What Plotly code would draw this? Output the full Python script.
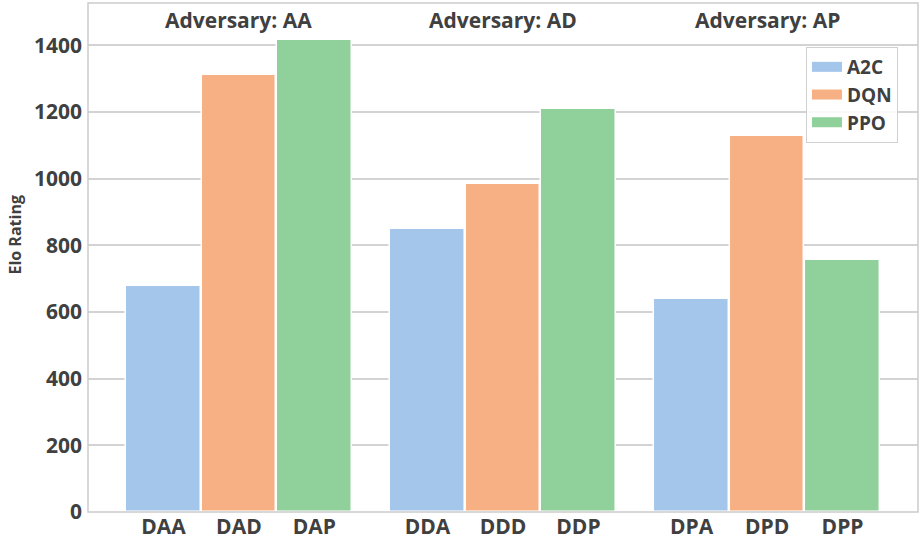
import plotly.graph_objects as go

adversaries = ["Adversary: AA", "Adversary: AD", "Adversary: AP"]
categories = [["DAA", "DAD", "DAP"], ["DDA", "DDD", "DDP"], ["DPA", "DPD", "DPP"]]
algorithms = ["A2C", "DQN", "PPO"]
elo = [[677, 1310, 1415], [850, 985, 1210], [638, 1127, 755]]
y_ticks = [0, 200, 400, 600, 800, 1000, 1200, 1400]

colors = {"A2C": "#a4c6ea", "DQN": "#f6b083", "PPO": "#90d09a"}
FONT = "Open Sans"
TXT = "#404040"

fig = go.Figure()

# facet layout: x ranges (in category units) and domains
ranges = [[-1.0, 2.75], [-0.75, 2.75], [-0.75, 3.0]]
spans = [r[1] - r[0] for r in ranges]
total = sum(spans)
domains = []
acc = 0.0
for s in spans:
    domains.append([acc / total, (acc + s) / total])
    acc += s

for i in range(3):
    xname = "x" if i == 0 else f"x{i+1}"
    fig.add_trace(go.Bar(
        x=categories[i], y=elo[i],
        xaxis=xname, yaxis="y",
        marker=dict(color=[colors[a] for a in algorithms],
                    line=dict(color="white", width=1.5)),
        width=0.99, showlegend=False, hoverinfo="x+y",
    ))
    axkey = "xaxis" if i == 0 else f"xaxis{i+1}"
    fig.layout[axkey] = dict(
        domain=domains[i], range=ranges[i], type="category",
        anchor="y", showgrid=False, showline=False, zeroline=False,
        automargin=False,
        ticks="", tickfont=dict(family=FONT, size=21, color=TXT, weight="bold"),
        ticklabelstandoff=0,
    )
    fig.add_annotation(
        x=categories[i][1], y=0.967, xref=xname, yref="paper",
        yanchor="middle", text=adversaries[i], showarrow=False,
        font=dict(family=FONT, size=21, color=TXT, weight="bold"),
    )

# legend-only entries (wide patches)
for a in algorithms:
    fig.add_trace(go.Scatter(
        x=[None], y=[None], mode="lines", name=a,
        line=dict(color=colors[a], width=10), xaxis="x", yaxis="y",
    ))

fig.update_layout(
    width=922, height=541,
    margin=dict(l=88, r=4, t=3, b=29, autoexpand=False),
    paper_bgcolor="white", plot_bgcolor="rgba(0,0,0,0)",
    bargap=0.0,
    yaxis=dict(range=[0, 1527], tickvals=y_ticks, showgrid=True,
               gridcolor="#d3d3d3", gridwidth=1.5, zeroline=False,
               showline=False, ticks="", automargin=False,
               tickfont=dict(family=FONT, size=21, color=TXT, weight="bold"),
               ticklabelstandoff=5),
    legend=dict(x=0.865, y=0.9136, xanchor="left", yanchor="top",
                bgcolor="rgba(255,255,255,0.85)", bordercolor="#d0d0d0",
                borderwidth=1,
                font=dict(family=FONT, size=19, color=TXT, weight="bold"),
                itemwidth=30, tracegroupgap=0),
    showlegend=True,
)

fig.add_shape(type="rect", xref="paper", yref="paper", x0=0, x1=1, y0=0, y1=1,
              line=dict(color="#cccccc", width=1.5), layer="above")

fig.add_annotation(
    x=-0.088, y=0.545, xref="paper", yref="paper", text="Elo Rating",
    xanchor="center", yanchor="middle",
    textangle=-90, showarrow=False,
    font=dict(family=FONT, size=16, color=TXT, weight="bold"),
)

fig.write_html("out.html", config={"displayModeBar": False},
               post_script="document.body.style.margin='0';")
